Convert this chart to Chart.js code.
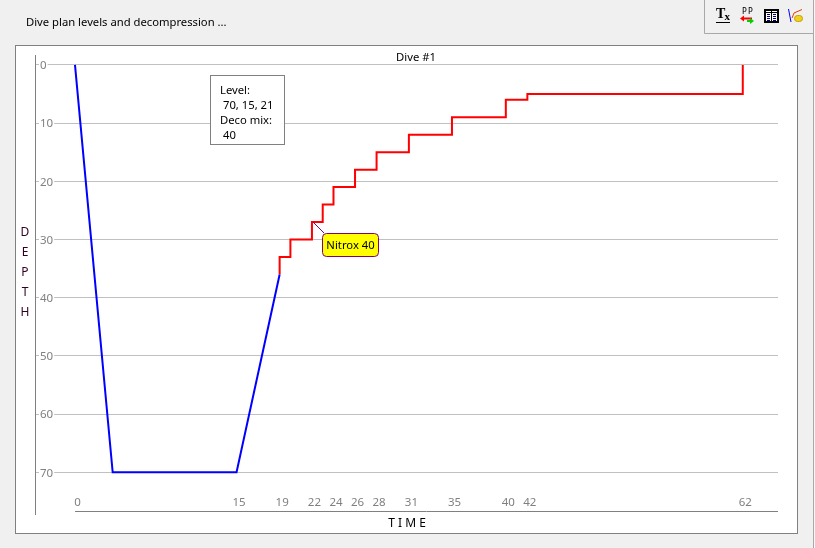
<!DOCTYPE html>
<html>
<head>
<meta charset="utf-8">
<style>html,body{margin:0;padding:0;background:#f0f0f0;overflow:hidden}canvas{display:block}</style>
<script src="https://cdn.jsdelivr.net/npm/chart.js@4"></script>
</head>
<body>
<div style="position:absolute;left:0;top:0;width:815px;height:548px"><canvas id="c" width="815" height="548"></canvas></div>
<script>
const xTickValues = [0, 15, 19, 22, 24, 26, 28, 31, 35, 40, 42, 62];
const yTickValues = [0, 10, 20, 30, 40, 50, 60, 70];
const descentTimes = [0, 3.5, 15, 19];
const descentDepths = [0, 70, 70, 36];
const decoTimes = [19, 19, 20, 22, 23, 24, 26, 28, 31, 35, 40, 42, 62, 62];
const decoDepths = [36, 33, 30, 27, 24, 21, 18, 15, 12, 9, 6, 5, 5, 0];
const FONT = '"Noto Sans", sans-serif';
const FONT_SIZE = 11.25;

const decor = {
  id: 'decor',
  beforeDraw(chart) {
    const c = chart.ctx;
    c.save();
    c.fillStyle = '#f0f0f0'; c.fillRect(0, 0, 815, 548);
    c.fillStyle = '#fff'; c.fillRect(15, 45, 782, 488);
    c.strokeStyle = '#808080'; c.lineWidth = 1;
    c.strokeRect(15.5, 45.5, 782, 488);
    c.strokeStyle = '#a8a8a8';
    c.beginPath(); c.moveTo(704.5, 0); c.lineTo(704.5, 33.5); c.lineTo(813, 33.5); c.moveTo(813.5, 0); c.lineTo(813.5, 548); c.stroke();
    c.fillStyle = '#fafafa'; c.fillRect(814, 0, 1, 548);
    c.restore();
  },
  afterDraw(chart) {
    const c = chart.ctx;
    c.save();
    c.strokeStyle = '#808080'; c.lineWidth = 1;
    c.beginPath(); c.moveTo(35.5, 55); c.lineTo(35.5, 515); c.moveTo(75, 511.5); c.lineTo(778, 511.5); c.stroke();

    c.font = FONT_SIZE + 'px ' + FONT; c.textBaseline = 'middle'; c.textAlign = 'left';
    c.fillStyle = '#000';
    c.fillText('Dive plan levels and decompression ...', 26, 23);
    c.textAlign = 'center';
    c.fillText('Dive #1', 416, 58);
    c.fillStyle = '#300020';
    c.font = '12px ' + FONT;
    ['D', 'E', 'P', 'T', 'H'].forEach((s, i) => c.fillText(s, 25, 233 + i * 20));

    // info box
    c.font = FONT_SIZE + 'px ' + FONT;
    c.fillStyle = '#fff'; c.fillRect(210.5, 75.5, 74, 69);
    c.strokeStyle = '#808080'; c.strokeRect(210.5, 75.5, 74, 69);
    c.fillStyle = '#000'; c.textAlign = 'left';
    c.fillText('Level:', 220, 91);
    c.fillText('70, 15, 21', 223, 106);
    c.fillText('Deco mix:', 220, 121);
    c.fillText('40', 223, 136);

    // callout
    c.strokeStyle = '#800080';
    c.beginPath(); c.moveTo(313, 222); c.lineTo(324, 233); c.stroke();
    c.fillStyle = '#ffff00';
    c.beginPath(); c.roundRect(322.5, 233.5, 56, 23, 4); c.fill(); c.stroke();
    c.fillStyle = '#000'; c.textAlign = 'center';
    c.fillText('Nitrox 40', 350.5, 246);

    // toolbar icons
    c.fillStyle = '#000'; c.strokeStyle = '#000';
    c.font = 'bold 14px "Liberation Serif", serif'; c.textAlign = 'left';
    c.fillText('T', 716, 14);
    c.font = 'bold 11px "Liberation Serif", serif';
    c.fillText('x', 724.5, 17.5);
    c.beginPath(); c.moveTo(716, 22.5); c.lineTo(730, 22.5); c.stroke();
    c.font = '8px "DejaVu Sans Mono", monospace';
    c.fillText('P', 742, 11.5); c.fillText('P', 748, 11.5);
    c.lineWidth = 2;
    c.strokeStyle = '#ff0000'; c.fillStyle = '#ff0000';
    c.beginPath(); c.moveTo(743, 18.5); c.lineTo(752, 18.5); c.stroke();
    c.beginPath(); c.moveTo(740, 18.5); c.lineTo(744, 15.5); c.lineTo(744, 21.5); c.fill();
    c.strokeStyle = '#00d000'; c.fillStyle = '#00d000';
    c.beginPath(); c.moveTo(747, 21); c.lineTo(751, 21); c.stroke();
    c.beginPath(); c.moveTo(754, 21); c.lineTo(750, 18); c.lineTo(750, 24); c.fill();
    c.strokeStyle = '#000'; c.fillStyle = '#fff';
    c.fillRect(765, 10, 13, 12); c.strokeRect(765, 10, 13, 12);
    c.lineWidth = 1;
    c.strokeStyle = '#000080';
    [14, 16, 18, 20].forEach(y => { c.beginPath(); c.moveTo(767, y + .5); c.lineTo(770, y + .5); c.moveTo(773, y + .5); c.lineTo(776, y + .5); c.stroke(); });
    c.strokeStyle = '#000'; c.beginPath(); c.moveTo(771.5, 10); c.lineTo(771.5, 22); c.moveTo(765, 12.5); c.lineTo(778, 12.5); c.stroke();
    c.strokeStyle = '#0000ff'; c.beginPath(); c.moveTo(788.5, 9); c.lineTo(791, 22); c.stroke();
    c.strokeStyle = '#e04000'; c.beginPath(); c.moveTo(792, 18); c.lineTo(794, 13); c.lineTo(802, 9.5); c.stroke();
    c.fillStyle = '#f0d020'; c.strokeStyle = '#c8a000';
    c.beginPath(); c.roundRect(794.5, 15.5, 8, 6, 3); c.fill(); c.stroke();
    c.restore();
  }
};

new Chart(document.getElementById('c'), {
  type: 'scatter',
  plugins: [decor],
  data: {
    datasets: [
      {
        label: 'Descent',
        data: descentTimes.map((t, i) => ({ x: t, y: descentDepths[i] })),
        showLine: true, borderColor: '#0000ff', borderWidth: 2, tension: 0, pointRadius: 0, fill: false
      },
      {
        label: 'Deco',
        data: decoTimes.map((t, i) => ({ x: t, y: decoDepths[i] })),
        showLine: true, stepped: 'before', borderColor: '#ff0000', borderWidth: 2, pointRadius: 0, fill: false
      }
    ]
  },
  options: {
    responsive: false,
    animation: false,
    devicePixelRatio: 1,
    events: [],
    layout: { padding: { left: 36, right: 37, top: 55, bottom: 17 } },
    plugins: { legend: { display: false }, title: { display: false }, tooltip: { enabled: false } },
    scales: {
      x: {
        type: 'linear', min: -3.62, max: 65.27,
        afterBuildTicks(s) { s.ticks = xTickValues.map(v => ({ value: v })); },
        afterFit(s) { s.height = 36; },
        grid: { display: false, drawTicks: false },
        border: { display: false },
        ticks: { autoSkip: false, maxRotation: 0, minRotation: 0, color: '#808080', font: { family: FONT, size: 11.5 }, padding: 1, labelOffset: 2.5, callback: v => String(v) },
        title: { display: true, text: 'T I M E', color: '#000', font: { family: FONT, size: 12 }, padding: 0 }
      },
      y: {
        type: 'linear', reverse: true, min: -1.7, max: 73.9,
        afterBuildTicks(s) { s.ticks = yTickValues.map(v => ({ value: v })); },
        afterFit(s) { s.width = 0; },
        grid: { color: '#c0c0c0', lineWidth: 1, drawTicks: false },
        border: { display: false },
        ticks: {
          mirror: true, padding: 4, labelOffset: 1, color: '#808080', font: { family: FONT, size: 11.5 },
          showLabelBackdrop: true, backdropColor: '#fff', backdropPadding: { left: 1, right: 1, top: 0, bottom: 0 }
        }
      }
    }
  }
});
</script>
</body>
</html>
